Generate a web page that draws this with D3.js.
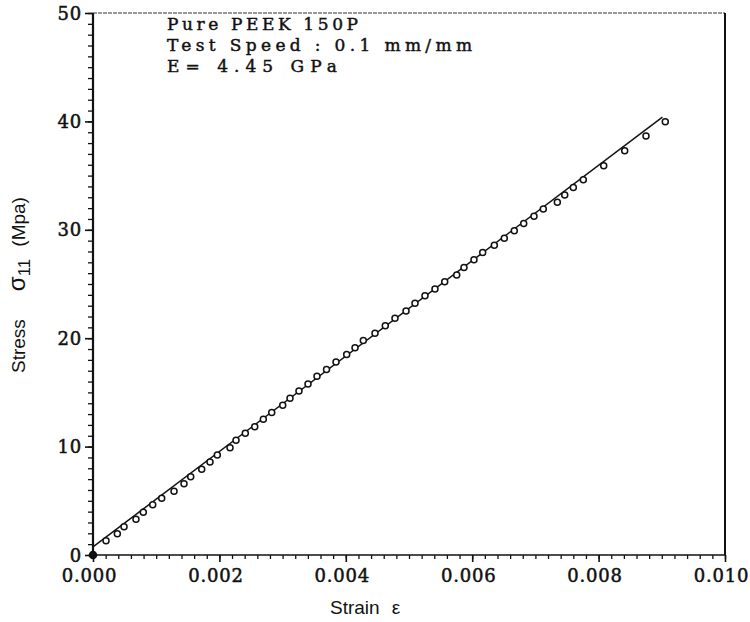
<!DOCTYPE html>
<html>
<head>
<meta charset="utf-8">
<script src="https://cdn.jsdelivr.net/npm/d3@7"></script>
<style>
	body { margin: 0; background: #fff; }
	.tick-label { font-family: "DejaVu Serif", serif; font-size: 18px; letter-spacing: 0.8px; fill: #111; stroke: #111; stroke-width: 0.5px; }
	.note { font-family: "DejaVu Serif", serif; font-size: 17px; fill: #111; stroke: #111; stroke-width: 0.45px; }
	.axis-title { font-family: "Liberation Sans", Arial, sans-serif; font-size: 19px; fill: #111; }
</style>
</head>
<body>
<div id="graph"></div>
<script>
var	width = 750,
	height = 622,
	margin = {top: 13, right: 25, bottom: 67, left: 93};

// measured points (strain, stress in MPa)
var strain = [0, 0.000206, 0.000385, 0.000491, 0.000680, 0.000796, 0.000945, 0.001087, 0.001282, 0.001440,
	0.001546, 0.001720, 0.001851, 0.001967, 0.002168, 0.002263, 0.002410, 0.002559, 0.002695, 0.002828,
	0.003002, 0.003117, 0.003259, 0.003402, 0.003544, 0.003695, 0.003845, 0.004014, 0.004146, 0.004277,
	0.004462, 0.004625, 0.004778, 0.004953, 0.005095, 0.005253, 0.005411, 0.005565, 0.005755, 0.005870,
	0.006028, 0.006166, 0.006350, 0.006508, 0.006666, 0.006815, 0.006978, 0.007125, 0.007347, 0.007464,
	0.007600, 0.007758, 0.008081, 0.008413, 0.008750, 0.009055];
var stress = [0, 1.32, 1.97, 2.61, 3.30, 3.94, 4.64, 5.23, 5.88, 6.58,
	7.22, 7.91, 8.58, 9.23, 9.90, 10.58, 11.23, 11.84, 12.53, 13.14,
	13.82, 14.46, 15.14, 15.78, 16.48, 17.12, 17.81, 18.49, 19.13, 19.78,
	20.46, 21.16, 21.85, 22.52, 23.23, 23.91, 24.55, 25.20, 25.84, 26.52,
	27.23, 27.90, 28.57, 29.23, 29.91, 30.58, 31.26, 31.91, 32.55, 33.20,
	33.91, 34.61, 35.91, 37.29, 38.65, 39.97];

// linear fit, E = 4.45 GPa
var fitStrain = [0, 0.00901],
	fitStress = [0.75, 40.4];

var xTicks = [0, 0.002, 0.004, 0.006, 0.008, 0.010],
	yTicks = [0, 10, 20, 30, 40, 50];

var noteLines = ["Pure PEEK 150P", "Test Speed : 0.1 mm/mm", "E= 4.45 GPa"],
	noteWidths = [191, 305, 170];

var svg = d3.select('div#graph')
			.append('svg')
			.attr('width', width)
			.attr('height', height)
			.style('background', '#fff');

var x = d3.scaleLinear()
			.domain([0, 0.010])
			.range([margin.left, width - margin.right]),
	y = d3.scaleLinear()
			.domain([0, 50])
			.range([height - margin.bottom, margin.top]);

function styleTicks(w){
	return function(g){
		g.select(".domain").remove();
		g.selectAll("line").attr("stroke", "#111").attr("stroke-width", w);
	};
}

// minor + major ticks, x
svg.append("g")
	.attr("transform", "translate(0," + y(0) + ")")
	.call(d3.axisBottom(x).tickValues(d3.range(0, 0.01001, 0.0002)).tickSize(4).tickFormat(""))
	.call(styleTicks(1.3));

svg.append("g")
	.attr("transform", "translate(0," + y(0) + ")")
	.call(d3.axisBottom(x).tickValues(xTicks).tickSize(7).tickFormat(""))
	.call(styleTicks(1.6));

// minor + major ticks, y
svg.append("g")
	.attr("transform", "translate(" + x(0) + ",0)")
	.call(d3.axisLeft(y).tickValues(d3.range(0, 50.5, 1)).tickSize(5).tickFormat(""))
	.call(styleTicks(1.3));

svg.append("g")
	.attr("transform", "translate(" + x(0) + ",0)")
	.call(d3.axisLeft(y).tickValues(yTicks).tickSize(8).tickFormat(""))
	.call(styleTicks(1.6));

// frame
svg.append("line")
	.attr("x1", x(0)).attr("x2", x(0.010))
	.attr("y1", y(50)).attr("y2", y(50))
	.attr("stroke", "#333").attr("stroke-width", 1).attr("stroke-dasharray", "4,1");
svg.append("line")
	.attr("x1", x(0.010)).attr("x2", x(0.010))
	.attr("y1", y(50)).attr("y2", y(0))
	.attr("stroke", "#111").attr("stroke-width", 2);
svg.append("line")
	.attr("x1", x(0)).attr("x2", x(0.010))
	.attr("y1", y(0)).attr("y2", y(0))
	.attr("stroke", "#111").attr("stroke-width", 1.5);
svg.append("line")
	.attr("x1", x(0)).attr("x2", x(0))
	.attr("y1", y(50)).attr("y2", y(0))
	.attr("stroke", "#111").attr("stroke-width", 2.2);

// tick labels
svg.append("g").selectAll("text")
	.data(xTicks).enter()
	.append("text")
	.attr("class", "tick-label")
	.attr("x", function(d){ return x(d) - 3.5; })
	.attr("y", 582)
	.attr("text-anchor", "middle")
	.text(function(d){ return d3.format(".3f")(d); });

svg.append("g").selectAll("text")
	.data(yTicks).enter()
	.append("text")
	.attr("class", "tick-label")
	.attr("x", 82)
	.attr("y", function(d){ return y(d) + 6.5; })
	.attr("text-anchor", "end")
	.text(function(d){ return d; });

// fit line
svg.append("path")
	.datum(d3.zip(fitStrain, fitStress))
	.attr("fill", "none")
	.attr("stroke", "#111")
	.attr("stroke-width", 1.5)
	.attr("d", d3.line().x(function(d){ return x(d[0]); }).y(function(d){ return y(d[1]); }));

// points
svg.append("g").selectAll("circle")
	.data(d3.zip(strain, stress)).enter()
	.append("circle")
	.attr("cx", function(d){ return x(d[0]); })
	.attr("cy", function(d){ return y(d[1]); })
	.attr("r", function(d, i){ return i == 0 ? 3.5 : 3; })
	.attr("fill", function(d, i){ return i == 0 ? "#111" : "#fff"; })
	.attr("stroke", "#111")
	.attr("stroke-width", 1.5);

// note
svg.append("g").selectAll("text")
	.data(noteLines).enter()
	.append("text")
	.attr("class", "note")
	.attr("x", 167)
	.attr("y", function(d, i){ return 30 + i * 21; })
	.attr("textLength", function(d, i){ return noteWidths[i]; })
	.attr("lengthAdjust", "spacing")
	.text(function(d){ return d; });

// axis titles
var xt = svg.append("text")
	.attr("class", "axis-title")
	.attr("x", 330)
	.attr("y", 614);
xt.append("tspan").text("Strain");
xt.append("tspan").attr("dx", 12).text("ε");

var yt = svg.append("text")
	.attr("class", "axis-title")
	.attr("transform", "translate(25,373) rotate(-90)");
yt.append("tspan").text("Stress");
yt.append("tspan").attr("dx", 28).style("font-size", "24px").text("σ");
yt.append("tspan").attr("dy", 5).style("font-size", "17px").text("11");
yt.append("tspan").attr("dy", -5).attr("dx", 12).text("(Mpa)");
</script>
</body>
</html>
